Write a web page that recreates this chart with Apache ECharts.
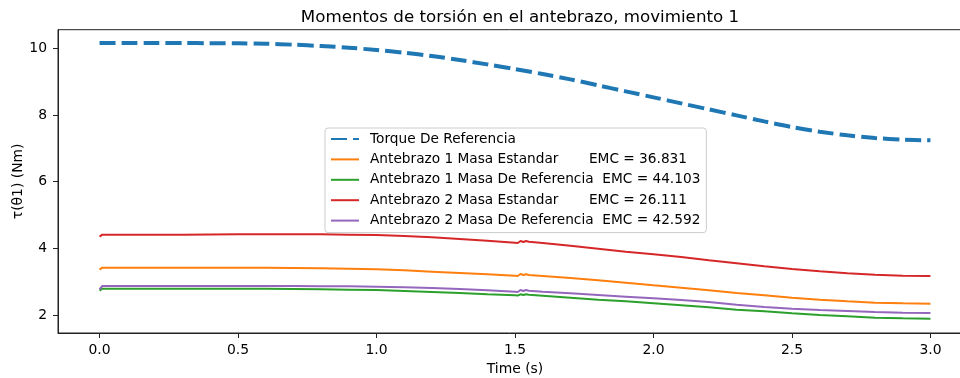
<!DOCTYPE html>
<html>
<head>
<meta charset="utf-8">
<script src="https://cdn.jsdelivr.net/npm/echarts@6/dist/echarts.min.js"></script>
<style>
  html, body { margin: 0; padding: 0; background: #fff; }
  #chart { width: 960px; height: 378px; }
</style>
</head>
<body>
<div id="chart"></div>
<script>
// Reference torque (s, Nm)
const refTime = [0.0, 0.1, 0.2, 0.3, 0.4, 0.5, 0.6, 0.7, 0.8, 0.9, 1.0, 1.1, 1.2, 1.3, 1.4, 1.5,
                 1.6, 1.7, 1.8, 1.9, 2.0, 2.1, 2.2, 2.3, 2.4, 2.5, 2.6, 2.7, 2.8, 2.9, 3.0];
const refTorque = [10.16, 10.16, 10.16, 10.16, 10.155, 10.15, 10.14, 10.11, 10.07, 10.02, 9.95, 9.87, 9.77, 9.65, 9.52, 9.38,
                   9.23, 9.07, 8.89, 8.71, 8.53, 8.35, 8.17, 7.99, 7.81, 7.64, 7.50, 7.39, 7.31, 7.26, 7.24];

// Sample times of the simulated forearm torques
const simTime = [0.0, 0.01, 0.1, 0.2, 0.3, 0.4, 0.5, 0.6, 0.7, 0.8, 0.9, 1.0, 1.1, 1.2, 1.3, 1.4, 1.5,
                 1.51, 1.52, 1.53, 1.54, 1.55,
                 1.6, 1.7, 1.8, 1.9, 2.0, 2.1, 2.2, 2.3, 2.4, 2.5, 2.6, 2.7, 2.8, 2.9, 3.0];

const fore1Std = [3.36, 3.42, 3.42, 3.42, 3.42, 3.42, 3.42, 3.42, 3.41, 3.40, 3.39, 3.37, 3.34, 3.30, 3.26, 3.22, 3.175,
                  3.17, 3.23, 3.20, 3.22, 3.20,
                  3.17, 3.11, 3.04, 2.97, 2.89, 2.82, 2.74, 2.66, 2.59, 2.52, 2.46, 2.41, 2.37, 2.35, 2.34];
const fore1Ref = [2.73, 2.79, 2.79, 2.79, 2.79, 2.79, 2.79, 2.79, 2.78, 2.77, 2.76, 2.75, 2.72, 2.69, 2.66, 2.62, 2.59,
                  2.585, 2.62, 2.60, 2.62, 2.61,
                  2.58, 2.52, 2.46, 2.41, 2.35, 2.29, 2.23, 2.16, 2.11, 2.05, 2.00, 1.96, 1.92, 1.90, 1.89];
const fore2Std = [4.35, 4.41, 4.41, 4.41, 4.41, 4.415, 4.42, 4.42, 4.42, 4.42, 4.41, 4.40, 4.37, 4.33, 4.28, 4.23, 4.17,
                  4.16, 4.22, 4.19, 4.22, 4.20,
                  4.16, 4.08, 3.99, 3.90, 3.82, 3.74, 3.64, 3.55, 3.46, 3.38, 3.31, 3.25, 3.21, 3.18, 3.17];
const fore2Ref = [2.77, 2.87, 2.87, 2.87, 2.87, 2.87, 2.87, 2.87, 2.87, 2.86, 2.86, 2.85, 2.83, 2.81, 2.78, 2.74, 2.70,
                  2.69, 2.75, 2.72, 2.75, 2.73,
                  2.70, 2.65, 2.60, 2.55, 2.50, 2.45, 2.39, 2.31, 2.24, 2.19, 2.15, 2.12, 2.09, 2.07, 2.06];

const seriesNames = [
  'Torque De Referencia',
  'Antebrazo 1 Masa Estandar       EMC = 36.831',
  'Antebrazo 1 Masa De Referencia  EMC = 44.103',
  'Antebrazo 2 Masa Estandar       EMC = 26.111',
  'Antebrazo 2 Masa De Referencia  EMC = 42.592'
];

const xTicks = [0.0, 0.5, 1.0, 1.5, 2.0, 2.5, 3.0];
const yTicks = [2, 4, 6, 8, 10];

const pair = (xs, ys) => xs.map((x, i) => [x, ys[i]]);

const FONT = 'DejaVu Sans';
const INK = '#222';

const chart = echarts.init(document.getElementById('chart'), null, { renderer: 'canvas' });

const simLine = (name, color, values) => ({
  name: name,
  type: 'line',
  data: pair(simTime, values),
  showSymbol: false,
  symbol: 'none',
  lineStyle: { color: color, width: 2 },
  itemStyle: { color: color },
  animation: false
});

chart.setOption({
  animation: false,
  backgroundColor: '#fff',
  textStyle: { fontFamily: FONT },
  title: {
    text: 'Momentos de torsión en el antebrazo, movimiento 1',
    left: 515,
    top: 4,
    textAlign: 'center',
    textStyle: { fontFamily: FONT, fontSize: 16.7, fontWeight: 'normal', color: '#000' }
  },
  grid: {
    left: 58,
    top: 29.7,
    width: 914,
    height: 303.3,
    outerBoundsMode: 'none',
    show: true,
    borderColor: INK,
    borderWidth: 1,
    backgroundColor: 'transparent',
    containLabel: false
  },
  legend: {
    orient: 'vertical',
    left: 325,
    top: 128,
    padding: [4, 6, 5, 5],
    itemWidth: 28,
    itemHeight: 14,
    itemGap: 6.4,
    backgroundColor: 'rgba(255,255,255,0.8)',
    borderColor: '#cccccc',
    borderWidth: 1,
    borderRadius: 3,
    itemStyle: { color: 'rgba(0,0,0,0)', borderWidth: 0, opacity: 0 },
    textStyle: { fontFamily: FONT, fontSize: 13.7, color: '#000', padding: [0, 0, 0, 6] },
    data: seriesNames
  },
  xAxis: {
    type: 'value',
    min: -0.15,
    max: 3.15,
    name: 'Time (s)',
    nameLocation: 'middle',
    nameGap: 29,
    nameMoveOverlap: false,
    nameTextStyle: { fontFamily: FONT, fontSize: 13.9, color: '#000' },
    axisLine: { show: true, onZero: false, lineStyle: { color: INK, width: 1 } },
    axisTick: { show: true, length: 5, lineStyle: { color: INK, width: 1 }, customValues: xTicks },
    axisLabel: {
      margin: 10,
      fontFamily: FONT, fontSize: 13.9, color: '#000',
      customValues: xTicks,
      formatter: v => v.toFixed(1)
    },
    splitLine: { show: false }
  },
  yAxis: {
    type: 'value',
    min: 1.46,
    max: 10.56,
    name: 'τ(θ1) (Nm)',
    nameLocation: 'middle',
    nameGap: 33,
    nameMoveOverlap: false,
    nameRotate: 90,
    nameTextStyle: { fontFamily: FONT, fontSize: 13.9, color: '#000' },
    axisLine: { show: true, onZero: false, lineStyle: { color: INK, width: 1 } },
    axisTick: { show: true, length: 5, lineStyle: { color: INK, width: 1 }, customValues: yTicks },
    axisLabel: {
      margin: 11,
      fontFamily: FONT, fontSize: 13.9, color: '#000',
      customValues: yTicks,
      formatter: v => String(Math.round(v))
    },
    splitLine: { show: false }
  },
  series: [
    {
      name: seriesNames[0],
      type: 'line',
      data: pair(refTime, refTorque),
      showSymbol: false,
      symbol: 'none',
      smooth: 0.3,
      lineStyle: { color: '#1f77b4', width: 4, type: [16, 6], cap: 'butt' },
      itemStyle: { color: '#1f77b4' },
      animation: false
    },
    simLine(seriesNames[1], '#ff7f0e', fore1Std),
    simLine(seriesNames[2], '#2ca02c', fore1Ref),
    simLine(seriesNames[3], '#d62728', fore2Std),
    simLine(seriesNames[4], '#9467bd', fore2Ref)
  ]
});
</script>
</body>
</html>
